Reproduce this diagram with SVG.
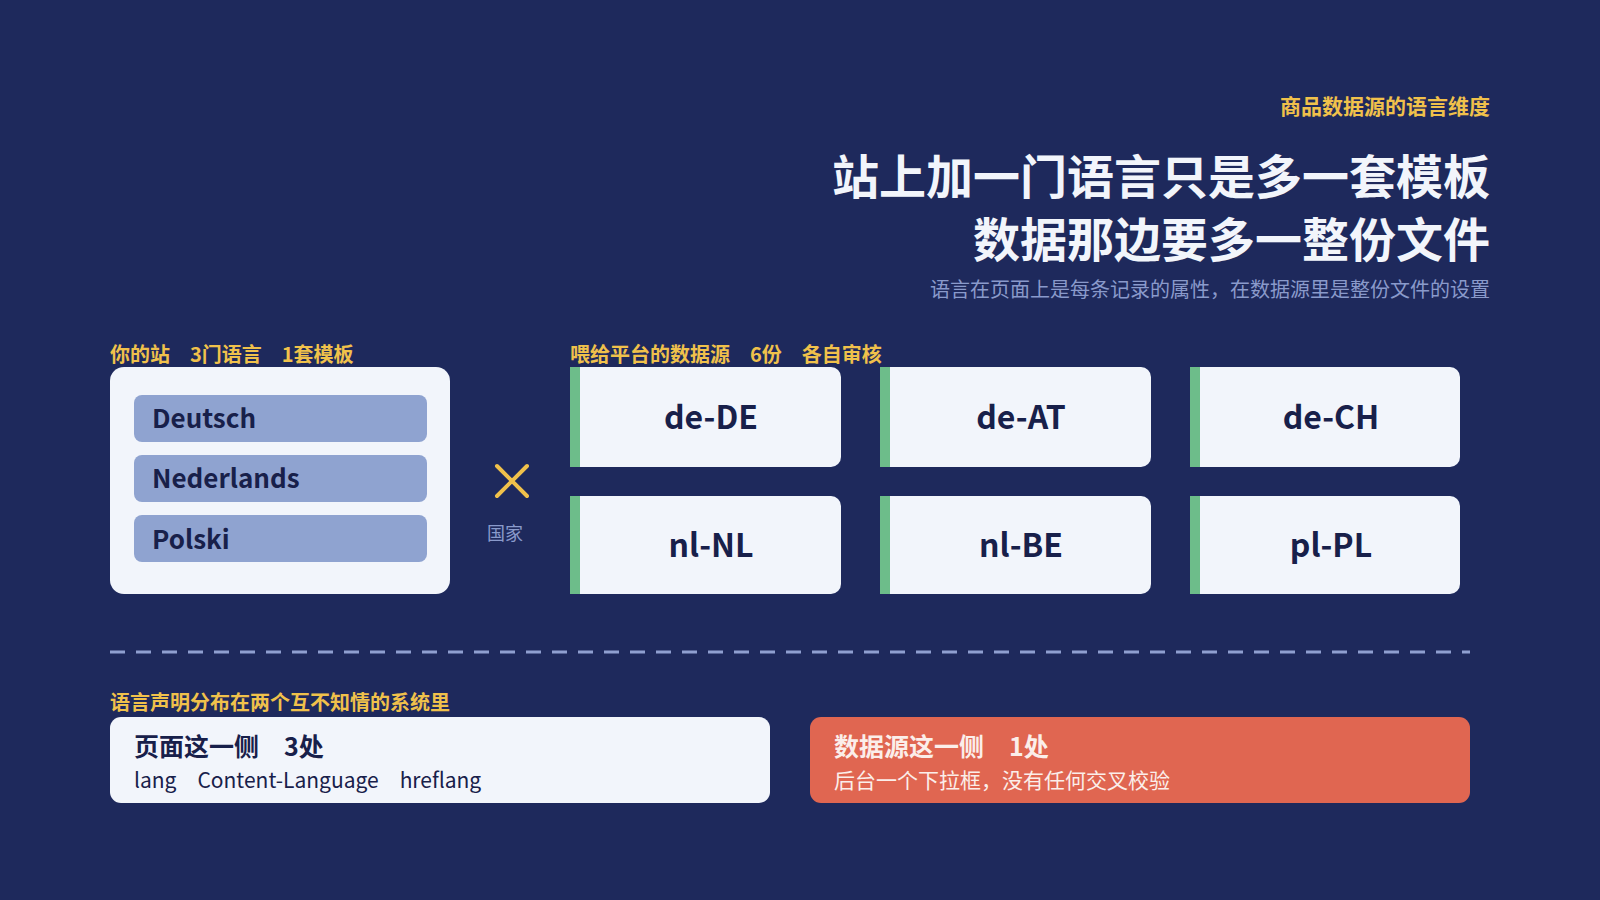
<svg xmlns="http://www.w3.org/2000/svg" width="1600" height="900" viewBox="0 0 1600 900">
<style>
text{font-family:"Noto Sans CJK SC","Noto Sans",sans-serif}
.lbl{font-size:20px;font-weight:700;fill:#f0c14b}
.pill{fill:#8fa3d0}
.pt{font-size:26px;font-weight:700;fill:#18204a}
.card{fill:#f2f5fb}
.bar{fill:#6dbd8a}
.ct{font-size:32px;font-weight:700;fill:#18204a;text-anchor:middle}
</style>
<rect width="1600" height="900" fill="#1e295c"/>
<g id="header">
<text x="1490" y="114" text-anchor="end" font-size="21" font-weight="700" fill="#f0c14b">商品数据源的语言维度</text>
<text x="1490" y="194" text-anchor="end" font-size="47" font-weight="700" fill="#f2f5fb">站上加一门语言只是多一套模板</text>
<text x="1490" y="257" text-anchor="end" font-size="47" font-weight="700" fill="#f2f5fb">数据那边要多一整份文件</text>
<text x="1490" y="297" text-anchor="end" font-size="20" fill="#8a9acb">语言在页面上是每条记录的属性，在数据源里是整份文件的设置</text>
</g>
<g id="site">
<text x="110" y="362" class="lbl" xml:space="preserve">你的站　3门语言　1套模板</text>
<rect x="110" y="367" width="340" height="227" rx="14" fill="#f2f5fb"/>
<rect class="pill" x="134" y="395" width="293" height="47" rx="8"/>
<rect class="pill" x="134" y="455" width="293" height="47" rx="8"/>
<rect class="pill" x="134" y="515" width="293" height="47" rx="8"/>
<text class="pt" x="152" y="428">Deutsch</text>
<text class="pt" x="152" y="488">Nederlands</text>
<text class="pt" x="152" y="549">Polski</text>
</g>
<g id="cross">
<path d="M497 466 L527 496 M527 466 L497 496" stroke="#f0c14b" stroke-width="4" stroke-linecap="round" fill="none"/>
<text x="505" y="540" text-anchor="middle" font-size="18" fill="#8a9acb">国家</text>
</g>
<g id="feeds">
<text x="570" y="362" class="lbl" xml:space="preserve">喂给平台的数据源　6份　各自审核</text>
<g id="de-DE"><path class="card" d="M570 367 H831 a10 10 0 0 1 10 10 V457 a10 10 0 0 1 -10 10 H570 Z"/><rect class="bar" x="570" y="367" width="10" height="100"/><text class="ct" x="711" y="429">de-DE</text></g>
<g id="de-AT"><path class="card" d="M880 367 H1141 a10 10 0 0 1 10 10 V457 a10 10 0 0 1 -10 10 H880 Z"/><rect class="bar" x="880" y="367" width="10" height="100"/><text class="ct" x="1021" y="429">de-AT</text></g>
<g id="de-CH"><path class="card" d="M1190 367 H1450 a10 10 0 0 1 10 10 V457 a10 10 0 0 1 -10 10 H1190 Z"/><rect class="bar" x="1190" y="367" width="10" height="100"/><text class="ct" x="1331" y="429">de-CH</text></g>
<g id="nl-NL"><path class="card" d="M570 496 H831 a10 10 0 0 1 10 10 V584 a10 10 0 0 1 -10 10 H570 Z"/><rect class="bar" x="570" y="496" width="10" height="98"/><text class="ct" x="711" y="557">nl-NL</text></g>
<g id="nl-BE"><path class="card" d="M880 496 H1141 a10 10 0 0 1 10 10 V584 a10 10 0 0 1 -10 10 H880 Z"/><rect class="bar" x="880" y="496" width="10" height="98"/><text class="ct" x="1021" y="557">nl-BE</text></g>
<g id="pl-PL"><path class="card" d="M1190 496 H1450 a10 10 0 0 1 10 10 V584 a10 10 0 0 1 -10 10 H1190 Z"/><rect class="bar" x="1190" y="496" width="10" height="98"/><text class="ct" x="1331" y="557">pl-PL</text></g>
</g>
<g id="connectors">
<line x1="110" y1="652" x2="1470" y2="652" stroke="#8f9fd0" stroke-width="3" stroke-dasharray="15 11"/>
</g>
<g id="bottom">
<text x="110" y="710" class="lbl">语言声明分布在两个互不知情的系统里</text>
<g id="page-side">
<rect x="110" y="717" width="660" height="86" rx="11" fill="#f2f5fb"/>
<text x="134" y="756" font-size="25" font-weight="700" fill="#18204a" xml:space="preserve">页面这一侧　3处</text>
<text x="134" y="788" font-size="21" fill="#18204a" xml:space="preserve">lang　Content-Language　hreflang</text>
</g>
<g id="feed-side">
<rect x="810" y="717" width="660" height="86" rx="11" fill="#e06651"/>
<text x="834" y="756" font-size="25" font-weight="700" fill="#fbeeea" xml:space="preserve">数据源这一侧　1处</text>
<text x="834" y="788" font-size="21" fill="#fbeeea">后台一个下拉框，没有任何交叉校验</text>
</g>
</g>
</svg>
